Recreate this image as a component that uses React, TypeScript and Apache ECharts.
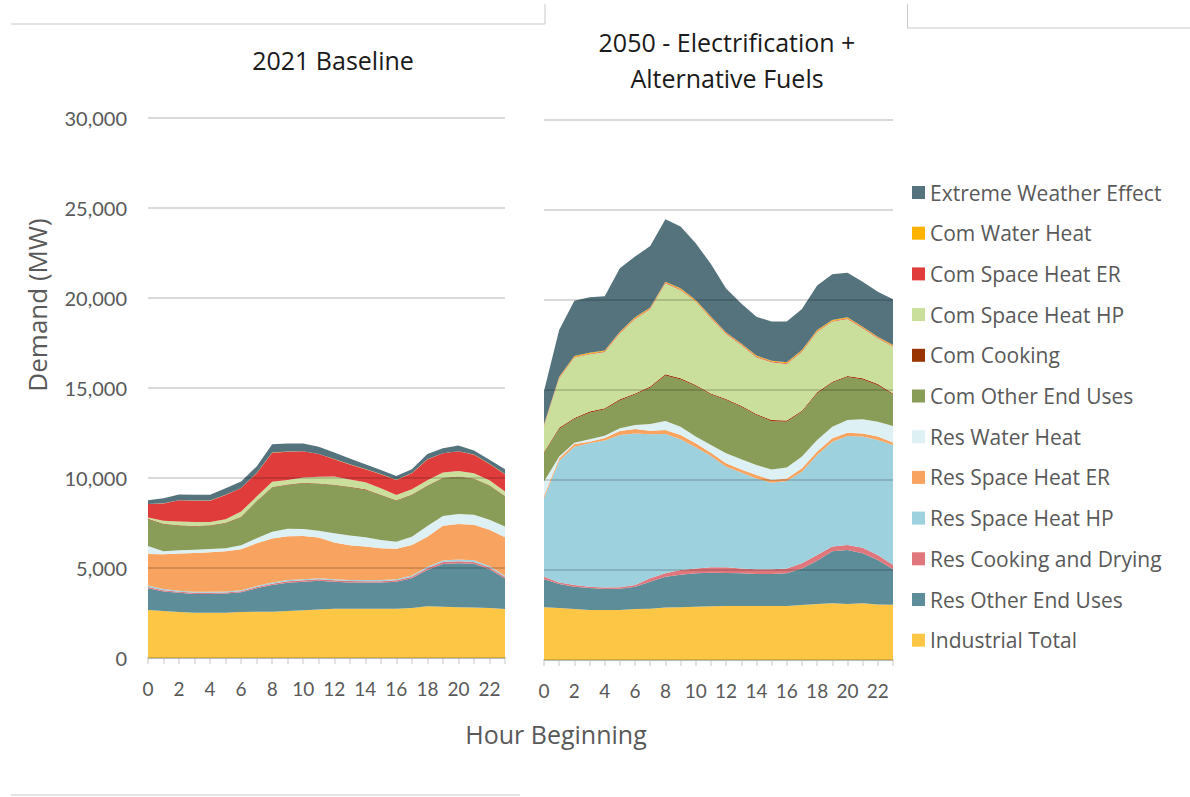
import React, { useEffect, useRef } from "react";
import * as echarts from "echarts";

const hours = ["0","1","2","3","4","5","6","7","8","9","10","11","12","13","14","15","16","17","18","19","20","21","22","23"];
const yTicks = [0, 5000, 10000, 15000, 20000, 25000, 30000];

const seriesNames = [
  "Industrial Total",
  "Res Other End Uses",
  "Res Cooking and Drying",
  "Res Space Heat HP",
  "Res Space Heat ER",
  "Res Water Heat",
  "Com Other End Uses",
  "Com Cooking",
  "Com Space Heat HP",
  "Com Space Heat ER",
  "Com Water Heat",
  "Extreme Weather Effect",
];
const seriesColors = [
  "#FDC745", "#5E8D9A", "#E0777C", "#9ED1DE", "#F8A35F", "#DDF0F4",
  "#899C58", "#993300", "#CADF9B", "#E03C3C", "#FFB300", "#54737D",
];

// 2021 Baseline (MW)
const L_industrial = [2670,2610,2560,2520,2520,2520,2560,2570,2570,2610,2650,2700,2740,2740,2740,2740,2740,2780,2870,2850,2820,2800,2780,2720];
const L_resOther = [1200,1090,1060,1040,1040,1060,1090,1300,1480,1570,1590,1590,1500,1460,1450,1450,1500,1650,2020,2370,2450,2430,2150,1690];
const L_resCook = [70,60,60,60,60,60,60,70,80,80,80,80,80,80,80,80,80,90,100,110,110,110,100,90];
const L_resHP = [90,70,60,60,60,60,60,60,70,70,60,60,60,60,60,60,60,70,80,90,90,90,80,70];
const L_resER = [1750,1930,2070,2160,2200,2230,2270,2370,2440,2440,2400,2270,2030,1930,1860,1770,1690,1690,1670,1930,1970,1970,2010,2140];
const L_resWater = [440,170,170,170,170,170,220,280,370,410,390,370,520,540,520,460,390,460,590,540,560,560,560,590];
const L_comOther = [1480,1500,1370,1300,1300,1390,1560,2040,2460,2430,2540,2590,2670,2670,2630,2480,2280,2320,2220,2090,2060,1980,1890,1670];
const L_comCook = [30,30,30,30,30,30,30,30,30,30,30,30,30,30,30,30,30,30,30,30,30,30,30,30];
const L_comHP = [80,170,210,210,170,190,290,250,290,250,290,380,450,410,400,360,290,290,300,290,300,300,270,250];
const L_comER = [740,960,1170,1190,1190,1350,1300,1300,1610,1570,1450,1260,960,830,720,780,830,890,1150,1070,1090,1020,910,960];
const L_comWater = [10,10,10,10,10,10,10,10,10,10,10,10,10,10,10,10,10,10,10,10,10,10,10,10];
const L_extreme = [210,270,310,320,320,360,360,360,470,450,420,400,360,320,270,230,210,210,290,270,310,230,230,270];

// 2050 - Electrification + Alternative Fuels (MW)
const R_industrial = [2930,2890,2830,2780,2780,2780,2830,2850,2910,2930,2960,2980,3000,3000,3000,3000,3000,3060,3110,3150,3110,3150,3090,3070];
const R_resOther = [1550,1330,1240,1220,1170,1180,1240,1500,1720,1810,1860,1870,1830,1820,1780,1780,1820,2030,2410,2890,3000,2780,2470,1970];
const R_resCook = [150,80,100,70,80,80,100,190,190,260,270,300,320,270,260,260,270,280,310,260,280,310,270,240];
const R_resHP = [4350,6770,7680,7970,8170,8460,8420,8000,7740,7260,6730,6180,5590,5320,5050,4810,4860,5090,5560,5830,6060,6170,6390,6670];
const R_resER = [130,130,150,90,130,220,240,200,220,240,220,190,190,180,190,150,140,190,190,190,180,180,190,140];
const R_resWater = [800,100,70,130,130,150,230,370,500,460,370,430,550,560,550,590,610,650,640,640,700,780,830,910];
const R_comOther = [1590,1540,1320,1480,1470,1550,1690,2020,2530,2630,2810,2800,2960,2920,2780,2680,2540,2490,2590,2440,2390,2220,2030,1750];
const R_comCook = [60,60,60,60,60,60,60,60,60,60,60,60,60,60,60,60,60,60,60,60,60,60,60,60];
const R_comHP = [1450,2750,3350,3180,3120,3670,4140,4310,5060,4910,4630,4180,3610,3370,3150,3210,3150,3280,3370,3340,3170,2780,2540,2600];
const R_comER = [40,40,40,40,40,40,40,40,40,40,40,40,40,40,40,40,40,40,40,40,40,40,40,40];
const R_comWater = [50,50,50,50,50,50,50,50,50,50,50,50,50,50,50,50,50,50,50,50,50,50,50,50];
const R_extreme = [1850,2590,3070,3080,3010,3520,3370,3410,3460,3430,3150,2920,2440,2210,2160,2170,2260,2280,2470,2540,2480,2500,2500,2540];

const leftData = [L_industrial, L_resOther, L_resCook, L_resHP, L_resER, L_resWater, L_comOther, L_comCook, L_comHP, L_comER, L_comWater, L_extreme];
const rightData = [R_industrial, R_resOther, R_resCook, R_resHP, R_resER, R_resWater, R_comOther, R_comCook, R_comHP, R_comER, R_comWater, R_extreme];

const FONT = "Open Sans";
const NUMFONT = "Lato";
const GREY = "#595959";

export default function App() {
  const ref = useRef<HTMLDivElement>(null);

  useEffect(() => {
    if (!ref.current) return;
    const chart = echarts.init(ref.current, undefined, { renderer: "svg" });

    const makeX = (gi: number) => ({
      type: "category",
      gridIndex: gi,
      data: hours,
      boundaryGap: false,
      axisLine: { lineStyle: { color: "#d9d9d9", width: 2 } },
      axisTick: { show: true, interval: 0, length: 6, lineStyle: { color: "#d9d9d9", width: 1.5 } },
      axisLabel: { interval: 1, color: GREY, fontSize: 19, fontFamily: NUMFONT, margin: 21 },
      splitLine: { show: false },
    });
    const makeY = (gi: number, showLabels: boolean) => ({
      type: "value",
      gridIndex: gi,
      min: yTicks[0],
      max: yTicks[yTicks.length - 1],
      interval: 5000,
      z: 5,
      axisLine: { show: false },
      axisTick: { show: false },
      axisLabel: {
        show: showLabels,
        color: GREY,
        fontSize: 20,
        fontFamily: NUMFONT,
        margin: 21,
        formatter: (v: number) => v.toLocaleString("en-US"),
      },
      splitLine: { show: true, lineStyle: { color: "rgba(0,0,0,0.15)", width: 2 } },
    });

    const series: any[] = [];
    [leftData, rightData].forEach((set, gi) => {
      set.forEach((vals, i) => {
        series.push({
          name: seriesNames[i],
          type: "line",
          xAxisIndex: gi,
          yAxisIndex: gi,
          stack: gi === 0 ? "left" : "right",
          data: vals,
          symbol: "none",
          showSymbol: false,
          lineStyle: { width: 0, color: seriesColors[i] },
          itemStyle: { color: seriesColors[i] },
          areaStyle: { color: seriesColors[i], opacity: 1 },
          emphasis: { disabled: true },
        });
      });
    });

    const lineStyle = { stroke: "#c8c8c8", lineWidth: 1 };

    chart.setOption({
      animation: false,
      grid: [
        { left: 148, top: 118, width: 357, height: 540 },
        { left: 544, top: 120, width: 349, height: 540 },
      ],
      xAxis: [makeX(0), makeX(1)],
      yAxis: [makeY(0, true), makeY(1, false)],
      legend: {
        orient: "vertical",
        left: 907,
        top: 177,
        itemWidth: 13,
        itemHeight: 13,
        itemGap: 19.7,
        icon: "rect",
        data: [...seriesNames].reverse(),
        textStyle: { color: GREY, fontSize: 21, fontFamily: FONT, lineHeight: 20 },
        selectedMode: false,
      },
      graphic: [
        { type: "text", x: 333, y: 60, style: { text: "2021 Baseline", fontSize: 25, fontFamily: FONT, fill: "#1a1a1a", align: "center", verticalAlign: "middle" } },
        { type: "text", x: 727, y: 42, style: { text: "2050 - Electrification +", fontSize: 25, fontFamily: FONT, fill: "#1a1a1a", align: "center", verticalAlign: "middle" } },
        { type: "text", x: 727, y: 78, style: { text: "Alternative Fuels", fontSize: 25, fontFamily: FONT, fill: "#1a1a1a", align: "center", verticalAlign: "middle" } },
        { type: "text", x: 37, y: 305, rotation: Math.PI / 2, style: { text: "Demand (MW)", fontSize: 26, fontFamily: FONT, fill: GREY, align: "center", verticalAlign: "middle" } },
        { type: "text", x: 556, y: 734, style: { text: "Hour Beginning", fontSize: 25, fontFamily: FONT, fill: GREY, align: "center", verticalAlign: "middle" } },
        { type: "line", shape: { x1: 11, y1: 24, x2: 545, y2: 24 }, style: lineStyle },
        { type: "line", shape: { x1: 545, y1: 4, x2: 545, y2: 24 }, style: lineStyle },
        { type: "line", shape: { x1: 907.5, y1: 4, x2: 907.5, y2: 28 }, style: lineStyle },
        { type: "line", shape: { x1: 907, y1: 28, x2: 1190, y2: 28 }, style: lineStyle },
        { type: "line", shape: { x1: 11, y1: 795, x2: 520, y2: 795 }, style: lineStyle },
      ],
      series,
    });

    return () => chart.dispose();
  }, []);

  return (
    <div
      ref={ref}
      style={{ position: "fixed", left: 0, top: 0, width: 1190, height: 797, background: "#ffffff" }}
    />
  );
}
